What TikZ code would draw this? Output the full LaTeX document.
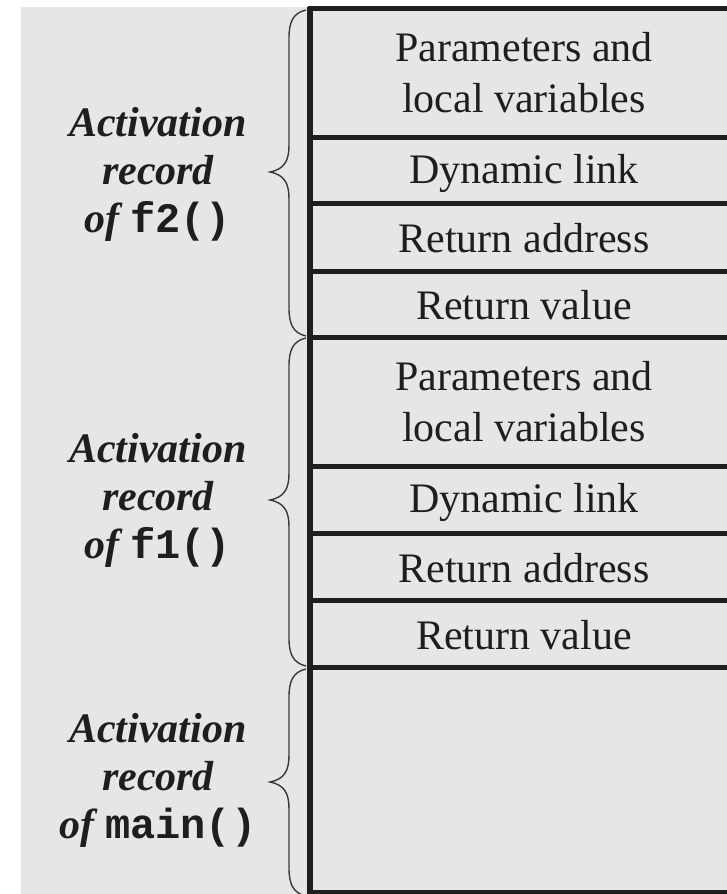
\documentclass[tikz,border=0pt]{standalone}
\usepackage{fontspec}
\setmainfont{Liberation Serif}
\setmonofont{Liberation Mono}
\definecolor{panel}{HTML}{E6E6E6}
\definecolor{ink}{HTML}{1E1E1E}
\definecolor{bracegray}{HTML}{3A3A3A}
% function name inside an italic label
\newcommand\codename[1]{{\ttfamily\upshape\bfseries #1}}
% curly brace: top end, tip, bottom end (y values)
\newcommand\ActBrace[3]{%
  \draw[bracepath] (306,#1) .. controls (293,#1+3) and (289,#1+12) .. (289,#1+28)
    -- (289,#2-27) .. controls (289,#2-12) and (285,#2-3) .. (270,#2)
    .. controls (285,#2+3) and (289,#2+12) .. (289,#2+27)
    -- (289,#3-28) .. controls (289,#3-12) and (293,#3-3) .. (306,#3);}
\begin{document}
\begin{tikzpicture}[x=1pt,y=-1pt,
  rule/.style={draw=ink,line width=5pt},
  cell/.style={font=\fontsize{42}{51}\selectfont,text=ink,align=center,inner sep=0pt},
  tag/.style={font=\fontsize{42}{48}\selectfont\bfseries\itshape,text=ink,align=center,inner sep=0pt},
  bracepath/.style={draw=bracegray,line width=1.4pt}]

\useasboundingbox (0,0) rectangle (727,894);
\fill[white] (0,0) rectangle (727,894);
\fill[panel] (21,7) rectangle (727,894);

% stack column
\foreach \y in {8.5,137,203,271,337,466,533,600.5,667.5,892.5}
  \draw[rule] (307.5,\y) -- (727,\y);
\draw[draw=ink,line width=5.5pt] (310,6.5) -- (310,894);

% cells of f2()
\node[cell] (p2) at (524,73) {Parameters and\\local variables};
\node[cell] (d2) at (524,173) {Dynamic link};
\node[cell] (a2) at (524,238) {Return address};
\node[cell] (v2) at (524,305) {Return value};
% cells of f1()
\node[cell] (p1) at (524,401.5) {Parameters and\\local variables};
\node[cell] (d1) at (524,502.5) {Dynamic link};
\node[cell] (a1) at (524,568) {Return address};
\node[cell] (v1) at (524,635) {Return value};

% braces
\ActBrace{10}{172}{336}
\ActBrace{338}{500}{666}
\ActBrace{669}{782}{896}

% labels
\node[tag] (lf2) at (158,174) {Activation\\record\\of \codename{f2()}};
\node[tag] (lf1) at (158,500) {Activation\\record\\of \codename{f1()}};
\node[tag] (lmain) at (158,780) {Activation\\record\\of \codename{main()}};
\end{tikzpicture}
\end{document}
